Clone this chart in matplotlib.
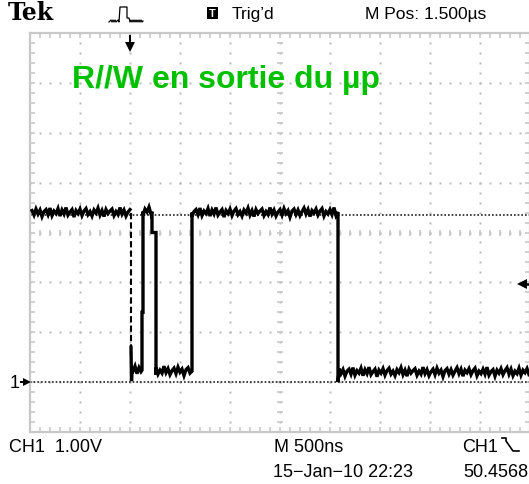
import numpy as np
import matplotlib
matplotlib.use("Agg")
import matplotlib.pyplot as plt
from matplotlib.lines import Line2D
from matplotlib.patches import Rectangle

# ---------------- data (time in microseconds, CH1 in volts) ----------------
title = "R//W en sortie du µp"
time_per_div_us = 0.5
volts_per_div = 1.0
high_cursor_v = 3.36
trigger_level_v = 1.96
trigger_time_us = 1.0

# flat (noisy) segments of the trace: start, end, level
seg_start = [0.02, 1.03, 1.13, 1.26, 1.62, 3.09]
seg_end = [1.01, 1.11, 1.22, 1.61, 3.08, 5.00]
seg_level = [3.40, 0.24, 3.42, 0.22, 3.40, 0.20]
seg_noise_offset = [0, 12, 30, 40, 5, 2]

# transition vertices placed after each flat segment
trans_t = [[1.01, 1.01],
           [1.12, 1.12, 1.13, 1.13],
           [1.22, 1.22, 1.26, 1.26],
           [1.62, 1.62],
           [3.08, 3.08, 3.09],
           []]
trans_v = [[3.40, 0.70],
           [0.24, 1.40, 1.40, 3.42],
           [3.42, 3.00, 3.00, 0.15],
           [0.22, 3.40],
           [3.40, 0.00, 0.20],
           []]

# sample-to-sample jitter read as ± band thickness of the trace
jitter = [0.04, -0.05, 0.07, -0.03, 0.05, -0.08, 0.02, 0.06, -0.04, 0.09,
          -0.06, 0.03, -0.02, 0.08, -0.07, 0.05, -0.03, 0.10, -0.05, 0.01,
          0.06, -0.09, 0.04, -0.02, 0.07, -0.06, 0.03, 0.08, -0.04, 0.02,
          -0.07, 0.05, -0.01, 0.09, -0.05, 0.04, -0.08, 0.06, -0.02, 0.03,
          0.07, -0.06, 0.02, -0.04, 0.10, -0.03, 0.05, -0.07, 0.01, 0.06,
          -0.05, 0.08, -0.02, 0.04, -0.09, 0.03, 0.07, -0.04, 0.05, -0.06,
          0.02, 0.09, -0.03, 0.06, -0.08, 0.04, -0.01, 0.07, -0.05, 0.03,
          0.08, -0.07, 0.02, -0.03, 0.06, -0.04, 0.10, -0.06, 0.01, 0.05,
          -0.08, 0.04, -0.02, 0.07, -0.05, 0.03, 0.09, -0.04, 0.06, -0.07,
          0.02, -0.03, 0.08, -0.06, 0.04, -0.01, 0.07, -0.05, 0.03, 0.06]

top_left = "Tek"
top_trig = "Trig\u2019d"
top_right = "M Pos: 1.500\u00b5s"
bot_ch = "CH1  1.00V"
bot_time = "M 500ns"
bot_trig = "CH1"
bot_date = "15\u2212Jan\u221210 22:23"
bot_freq = "50.4568"

# ---------------- figure ----------------
W, H = 529, 484
fig = plt.figure(figsize=(W / 100, H / 100), dpi=100)
fig.patch.set_facecolor("white")

def fx(px):
    return px / W

def fy(py):
    return 1 - py / H

ax_l, ax_t, ax_r, ax_b = 30, 33, 530, 432
ax = fig.add_axes([fx(ax_l), fy(ax_b), (ax_r - ax_l) / W, (ax_b - ax_t) / H])
ax.set_xlim(0, 10 * time_per_div_us)
ax.set_ylim(-1 * volts_per_div, 7 * volts_per_div)
ax.set_facecolor("white")

grid_c = "#b8b8b8"
for s in ax.spines.values():
    s.set_color("#c8c8c8")
    s.set_linewidth(1.6)
ax.set_xticks(np.arange(0, 5.01, 0.5))
ax.set_xticks(np.arange(0, 5.01, 0.1), minor=True)
ax.set_yticks(np.arange(-1, 7.01, 1))
ax.set_yticks(np.arange(-1, 7.01, 0.2), minor=True)
ax.tick_params(which="both", direction="in", length=3.5, width=1.2, color="#c8c8c8",
               top=True, right=True, labelbottom=False, labelleft=False)

# graticule dots
for xm in np.arange(0.5, 5.0, 0.5):
    ys = np.arange(-1, 7.01, 0.2)
    ax.plot(np.full_like(ys, xm), ys, ls="none", marker="s", ms=1.4, mew=0,
            color=grid_c, zorder=1)
for ym in np.arange(0, 7, 1.0):
    xs = np.arange(0, 5.01, 0.1)
    ax.plot(xs, np.full_like(xs, ym), ls="none", marker="s", ms=1.4, mew=0,
            color=grid_c, zorder=1)
# centre-line ticks
cx = np.arange(0, 5.01, 0.1)
ax.plot(cx, np.full_like(cx, 3.0), ls="none", marker="|", ms=4.5, mew=1.2,
        color="#c8c8c8", zorder=1)
cy = np.arange(-1, 7.01, 0.2)
ax.plot(np.full_like(cy, 2.5), cy, ls="none", marker="_", ms=5, mew=1.2,
        color="#c8c8c8", zorder=1)

# cursor / reference dotted lines
ax.axhline(high_cursor_v, color="#222222", lw=1.2, ls=(0, (1, 1.2)), zorder=2)
ax.axhline(0.0, color="#222222", lw=1.2, ls=(0, (1, 1.2)), zorder=2)

# ---------------- trace ----------------
def flat(i):
    t = np.arange(seg_start[i], seg_end[i] + 1e-9, 0.02)
    o = seg_noise_offset[i]
    n = len(t)
    j = np.array((jitter[o:] + jitter)[:n])
    return t, seg_level[i] + j

TRACE_LW = 2.4
# first high segment
t0, v0 = flat(0)
ax.plot(t0, v0, color="black", lw=TRACE_LW, zorder=4, solid_joinstyle="miter")
# fast falling edge drawn dashed (sparse samples)
ax.plot(trans_t[0], trans_v[0], color="black", lw=1.5, ls=(0, (3, 1.5)), zorder=4)

ts, vs = [trans_t[0][1], trans_t[0][1] + 0.005, trans_t[0][1] + 0.01], [trans_v[0][1], 0.02, seg_level[1]]
for i in range(1, len(seg_start)):
    t, v = flat(i)
    ts += list(t) + trans_t[i]
    vs += list(v) + trans_v[i]
ax.plot(ts, vs, color="black", lw=TRACE_LW, zorder=4, solid_joinstyle="miter")

# trigger position arrow (top) and trigger level arrow (right)
ax.plot([trigger_time_us, trigger_time_us], [6.93, 6.78], color="black", lw=1.5,
        zorder=5, clip_on=False)
ax.plot([trigger_time_us], [6.72], marker="v", ms=7, color="black", mew=0,
        zorder=5, clip_on=False)
ax.plot([4.96, 5.0], [trigger_level_v, trigger_level_v], color="black", lw=1.8, zorder=5)
ax.plot([4.92], [trigger_level_v], marker="<", ms=7, color="black", mew=0, zorder=5)
# ground marker (left, outside)
ax.plot([-0.09, -0.04], [0, 0], color="black", lw=1.5, clip_on=False, zorder=5)
ax.plot([-0.03], [0], marker=">", ms=6, color="black", mew=0, clip_on=False, zorder=5)

# ---------------- texts ----------------
sans = ["Liberation Sans Narrow", "Liberation Sans", "DejaVu Sans"]
fig.text(fx(72), fy(88), title, color="#00c000", fontsize=23, fontweight="bold",
         family="Liberation Sans", ha="left", va="baseline")
fig.text(fx(10), fy(388), "1", fontsize=13, family=sans, ha="left", va="baseline")

fig.text(fx(8), fy(20), top_left, fontsize=17, fontweight="bold", family="DejaVu Serif",
         ha="left", va="baseline")
fig.text(fx(232), fy(19), top_trig, fontsize=12.5, family=sans, ha="left", va="baseline")
fig.text(fx(365), fy(19), top_right, fontsize=12.5, family=sans, ha="left", va="baseline")
fig.patches.append(Rectangle((fx(207), fy(19)), 11 / W, 12 / H, transform=fig.transFigure,
                             facecolor="black", edgecolor="none"))
fig.text(fx(212.5), fy(17), "T", fontsize=8, fontweight="bold", color="white",
         family="Liberation Sans", ha="center", va="baseline")
# small trigger-waveform icon
icon_x = [109, 111, 112, 113, 114, 115, 116, 118, 119, 120, 121, 126, 127, 127, 129, 130, 131, 132, 133, 134, 135, 136, 137, 138, 139, 140, 141, 142, 143]
icon_y = [22, 20, 22, 20, 22, 20, 22, 20, 22, 7, 7, 7, 7, 18, 18, 22, 20, 22, 20, 22, 20, 22, 20, 22, 20, 22, 20, 22, 21]
fig.add_artist(Line2D([fx(x) for x in icon_x], [fy(y) for y in icon_y], color="black",
                      lw=0.9, transform=fig.transFigure))

BFS = 13
fig.text(fx(9), fy(452), bot_ch, fontsize=BFS, family=sans, ha="left", va="baseline")
fig.text(fx(274), fy(452), bot_time, fontsize=BFS, family=sans, ha="left", va="baseline")
fig.text(fx(462), fy(452), bot_trig, fontsize=BFS, family=sans, ha="left", va="baseline")
fig.text(fx(273), fy(477), bot_date, fontsize=BFS, family=sans, ha="left", va="baseline")
fig.text(fx(463), fy(477), bot_freq, fontsize=BFS, family=sans, ha="left", va="baseline")
edge_x = [502, 506, 506, 513, 519]
edge_y = [438, 438, 441, 451, 451]
fig.add_artist(Line2D([fx(x) for x in edge_x], [fy(y) for y in edge_y], color="black",
                      lw=1.2, transform=fig.transFigure))

fig.savefig("out.png", dpi=100, facecolor="white")
